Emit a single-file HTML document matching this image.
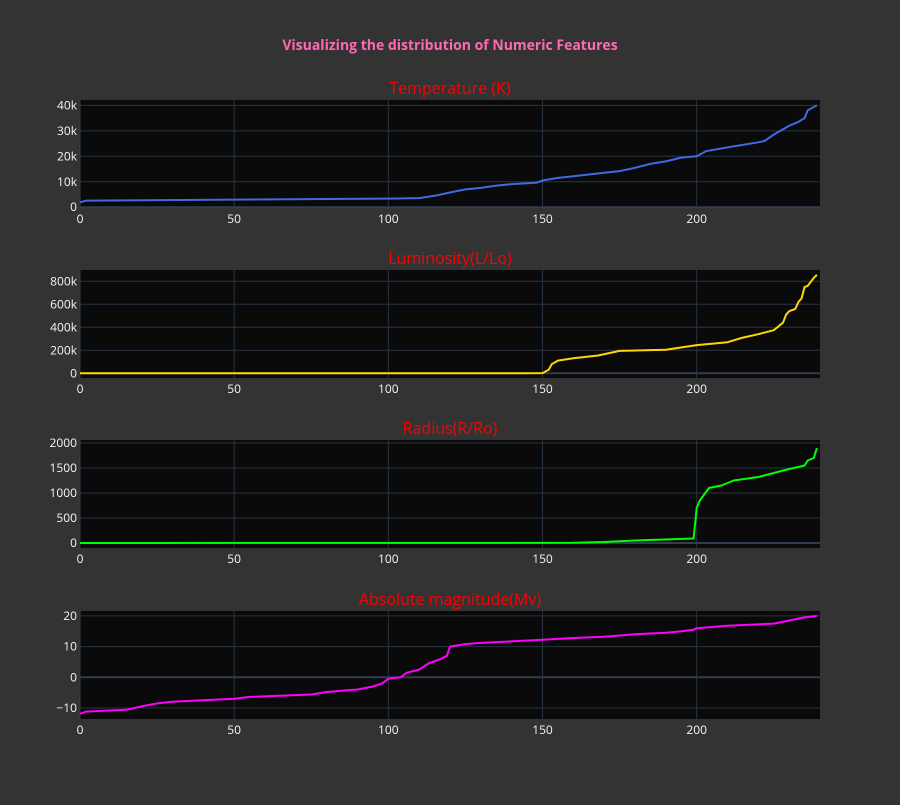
<!DOCTYPE html>
<html><head><meta charset="utf-8"><style>
body{margin:0;background:#333;font-family:"Liberation Sans",sans-serif}
svg text{font-family:"Open Sans","Liberation Sans",sans-serif}
</style></head><body>
<svg id="c" width="900" height="800" xmlns="http://www.w3.org/2000/svg">
<rect width="900" height="800" fill="#333"/>
<text x="450" y="50" text-anchor="middle" font-size="14" font-weight="bold" fill="#ff69b4">Visualizing the distribution of Numeric Features</text>
</svg>
<script>
const xTicks=[0,50,100,150,200];
const tempX=[0,2,50,100,110,115,120,125,130,135,140,148,150,155,160,170,175,180,185,190,195,200,203,210,220,222,225,230,233,235,236,239];
const tempY=[1900,2600,3000,3400,3600,4500,5800,7000,7600,8500,9100,9600,10500,11500,12200,13500,14200,15500,17000,18000,19500,20000,22000,23500,25500,26000,28500,32000,33500,35000,38000,40000];
const lumX=[0,145,150,152,153,155,160,168,175,190,200,210,215,220,225,228,229,230,232,233,234,235,236,238,239];
const lumY=[0,300,2000,30000,80000,110000,130000,155000,195000,205000,245000,270000,310000,340000,375000,440000,510000,540000,560000,620000,650000,750000,760000,830000,855000];
const radX=[0,160,170,180,199,200,201,204,208,212,220,225,228,235,236,238,239];
const radY=[0,5,20,50,90,700,850,1100,1150,1250,1320,1400,1450,1550,1650,1700,1900];
const magX=[0,2,15,20,25,30,50,55,75,80,90,95,98,100,104,106,110,113,117,119,120,125,130,150,160,170,180,190,195,199,200,210,225,230,235,239];
const magY=[-11.9,-11.2,-10.6,-9.5,-8.5,-8,-7,-6.4,-5.6,-4.8,-4,-3,-2,-0.5,0,1.5,2.5,4.5,6,7,10,10.8,11.2,12.2,12.8,13.2,14,14.5,15,15.5,16,16.8,17.5,18.5,19.5,20];
const panels=[
 {name:'temperature',title:'Temperature (K)',top:100,x:tempX,y:tempY,ymin:-300,ymax:42100,ticks:[0,10000,20000,30000,40000],labels:['0','10k','20k','30k','40k'],color:'#4169e1'},
 {name:'luminosity',title:'Luminosity(L/Lo)',top:270,x:lumX,y:lumY,ymin:-41000,ymax:898000,ticks:[0,200000,400000,600000,800000],labels:['0','200k','400k','600k','800k'],color:'#ffd700'},
 {name:'radius',title:'Radius(R/Ro)',top:440,x:radX,y:radY,ymin:-100,ymax:2060,ticks:[0,500,1000,1500,2000],labels:['0','500','1000','1500','2000'],color:'#00ff00'},
 {name:'magnitude',title:'Absolute magnitude(Mv)',top:611,x:magX,y:magY,ymin:-13.6,ymax:21.6,ticks:[-10,0,10,20],labels:['−10','0','10','20'],color:'#ff00ff'}
];
const svg=document.getElementById('c'),NS='http://www.w3.org/2000/svg';
const L=80,R=820,H=108,XMAX=240;
function mk(t,a,p){const e=document.createElementNS(NS,t);for(const k in a)e.setAttribute(k,a[k]);(p||svg).appendChild(e);return e;}
const sx=v=>L+v/XMAX*(R-L);
panels.forEach(p=>{
 const sy=v=>p.top+H-(v-p.ymin)/(p.ymax-p.ymin)*H;
 const g=mk('g',{});
 
 
 const bg=mk('rect',{x:L,y:p.top,width:R-L,height:H,fill:'#0a0a0a'},g);
 
 
 xTicks.forEach(t=>{
  const gl=mk('line',{x1:sx(t),x2:sx(t),y1:p.top,y2:p.top+H,stroke:t===0?'#2f3d4f':'#283442','stroke-width':1},g);
  
  
  const tl=mk('text',{x:sx(t),y:p.top+H+15,'text-anchor':'middle','font-size':12,fill:'#f2f5fa'},g);
  tl.textContent=t;
  
  
 });
 p.ticks.forEach((t,i)=>{
  const gl=mk('line',{x1:L,x2:R,y1:sy(t),y2:sy(t),stroke:t===0?'#2f3d4f':'#283442','stroke-width':t===0?2:1},g);
  
  
  const tl=mk('text',{x:L-3,y:sy(t)+4,'text-anchor':'end','font-size':12,fill:'#f2f5fa'},g);
  tl.textContent=p.labels[i];
  
  
 });
 const pts=p.x.map((xv,i)=>sx(xv).toFixed(1)+','+sy(p.y[i]).toFixed(1)).join(' ');
 const ln=mk('polyline',{points:pts,fill:'none',stroke:p.color,'stroke-width':2,'stroke-linejoin':'round'},g);
 
 
 const tt=mk('text',{x:450,y:p.top-6,'text-anchor':'middle','font-size':16,fill:'#ff0000'},g);
 tt.textContent=p.title;
 
 
});
</script>
</body></html>
